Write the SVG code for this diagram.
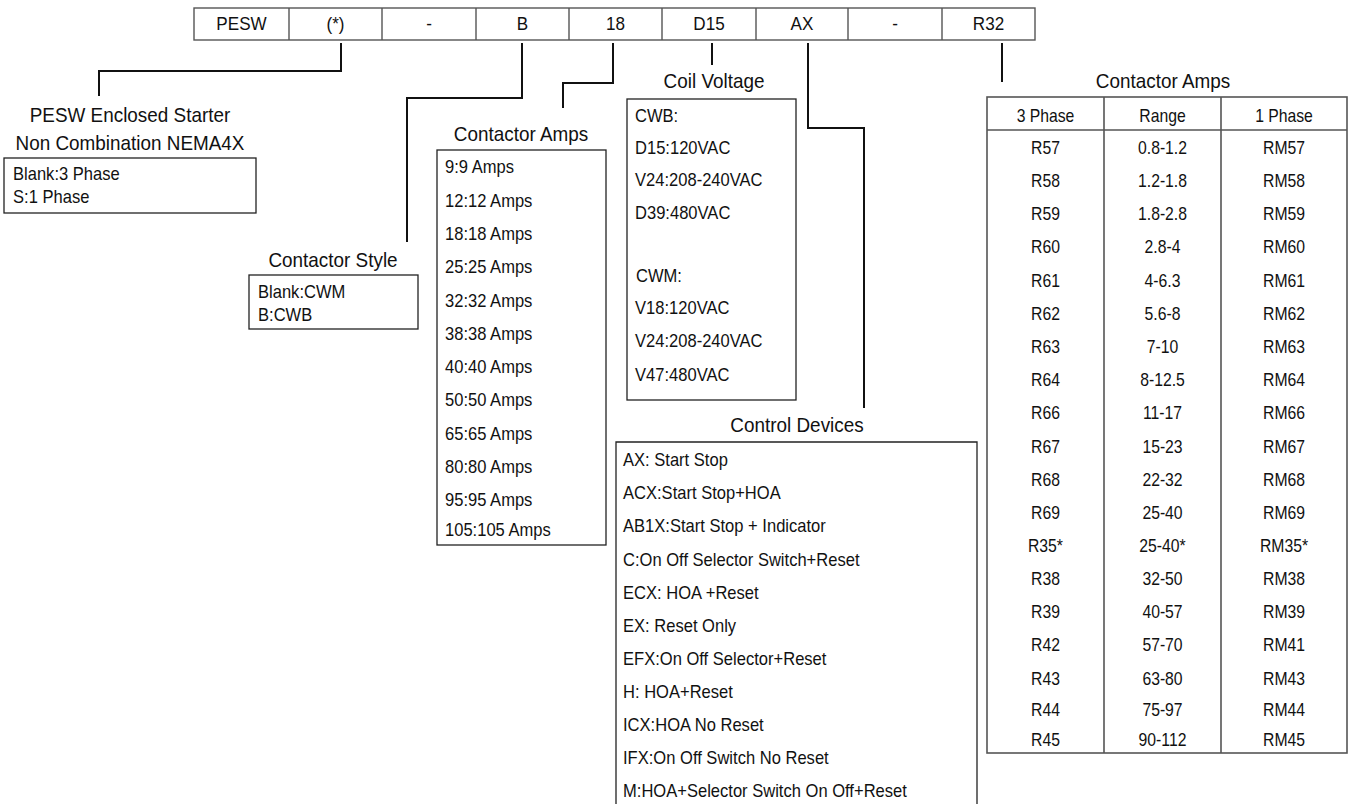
<svg xmlns="http://www.w3.org/2000/svg" width="1349" height="804" viewBox="0 0 1349 804">
<style>
text{font-family:"Liberation Sans",Arial,sans-serif;fill:#111}
.title{font-size:21px;text-anchor:middle}
.item{font-size:18px}
.bar{font-size:18px;text-anchor:middle}
.cell{font-size:17.5px;text-anchor:middle}
.box{fill:#fff;stroke:#222;stroke-width:1.3}
.grid{fill:none;stroke:#555;stroke-width:1.4}
.tbl{fill:none;stroke:#555;stroke-width:1.6}
.conn{fill:none;stroke:#111;stroke-width:2}
</style>
<rect width="1349" height="804" fill="#fff"/>

<g id="code-bar">
<rect x="194" y="8" width="841" height="32" class="grid" fill="#fff"/>
<path class="grid" d="M289,8V40M382,8V40M476,8V40M569,8V40M662,8V40M756,8V40M848,8V40M942,8V40"/>
<text class="bar" transform="translate(241.5,30) scale(0.95,1)">PESW</text>
<text class="bar" transform="translate(335.5,30) scale(0.95,1)">(*)</text>
<text class="bar" transform="translate(429,30) scale(0.95,1)">-</text>
<text class="bar" transform="translate(522.5,30) scale(0.95,1)">B</text>
<text class="bar" transform="translate(615.5,30) scale(0.95,1)">18</text>
<text class="bar" transform="translate(709,30) scale(0.95,1)">D15</text>
<text class="bar" transform="translate(802,30) scale(0.95,1)">AX</text>
<text class="bar" transform="translate(895,30) scale(0.95,1)">-</text>
<text class="bar" transform="translate(988.5,30) scale(0.95,1)">R32</text>
</g>

<g id="connectors">
<path class="conn" d="M341,43V71H99V96"/>
<path class="conn" d="M522,43V98H407V242"/>
<path class="conn" d="M613,43V83H563V108"/>
<path class="conn" d="M712,43V65"/>
<path class="conn" d="M808,43V128H864V408"/>
<path class="conn" d="M1002,43V82"/>
</g>

<g id="enclosed-starter">
<text class="title" transform="translate(130,122) scale(0.9,1)">PESW Enclosed Starter</text>
<text class="title" transform="translate(130,150) scale(0.9,1)">Non Combination NEMA4X</text>
<rect class="box" x="4" y="158" width="252" height="55"/>
<text class="item" transform="translate(13,180) scale(0.92,1)">Blank:3 Phase</text>
<text class="item" transform="translate(13,203) scale(0.92,1)">S:1 Phase</text>
</g>

<g id="contactor-style">
<text class="title" transform="translate(333,267) scale(0.9,1)">Contactor Style</text>
<rect class="box" x="249" y="275" width="169" height="54"/>
<text class="item" transform="translate(258,298) scale(0.92,1)">Blank:CWM</text>
<text class="item" transform="translate(258,320.5) scale(0.92,1)">B:CWB</text>
</g>

<g id="contactor-amps">
<text class="title" transform="translate(521,141) scale(0.9,1)">Contactor Amps</text>
<rect class="box" x="437" y="150" width="169" height="395"/>
<text class="item" transform="translate(445,173) scale(0.92,1)">9:9 Amps</text>
<text class="item" transform="translate(445,206.5) scale(0.92,1)">12:12 Amps</text>
<text class="item" transform="translate(445,240) scale(0.92,1)">18:18 Amps</text>
<text class="item" transform="translate(445,273) scale(0.92,1)">25:25 Amps</text>
<text class="item" transform="translate(445,306.5) scale(0.92,1)">32:32 Amps</text>
<text class="item" transform="translate(445,339.5) scale(0.92,1)">38:38 Amps</text>
<text class="item" transform="translate(445,373) scale(0.92,1)">40:40 Amps</text>
<text class="item" transform="translate(445,406) scale(0.92,1)">50:50 Amps</text>
<text class="item" transform="translate(445,440) scale(0.92,1)">65:65 Amps</text>
<text class="item" transform="translate(445,473) scale(0.92,1)">80:80 Amps</text>
<text class="item" transform="translate(445,506) scale(0.92,1)">95:95 Amps</text>
<text class="item" transform="translate(445,536) scale(0.92,1)">105:105 Amps</text>
</g>

<g id="coil-voltage">
<text class="title" transform="translate(714,88) scale(0.9,1)">Coil Voltage</text>
<rect class="box" x="627" y="99" width="169" height="301"/>
<text class="item" transform="translate(635,122) scale(0.92,1)">CWB:</text>
<text class="item" transform="translate(635,154) scale(0.92,1)">D15:120VAC</text>
<text class="item" transform="translate(635,186) scale(0.92,1)">V24:208-240VAC</text>
<text class="item" transform="translate(635,218.5) scale(0.92,1)">D39:480VAC</text>
<text class="item" transform="translate(636,282) scale(0.92,1)">CWM:</text>
<text class="item" transform="translate(635,313.5) scale(0.92,1)">V18:120VAC</text>
<text class="item" transform="translate(635,347) scale(0.92,1)">V24:208-240VAC</text>
<text class="item" transform="translate(635,380.5) scale(0.92,1)">V47:480VAC</text>
</g>

<g id="control-devices">
<text class="title" transform="translate(797,432) scale(0.9,1)">Control Devices</text>
<path class="box" d="M616,805V442H977V805"/>
<text class="item" transform="translate(623,466) scale(0.92,1)">AX: Start Stop</text>
<text class="item" transform="translate(623,499) scale(0.92,1)">ACX:Start Stop+HOA</text>
<text class="item" transform="translate(623,532) scale(0.92,1)">AB1X:Start Stop + Indicator</text>
<text class="item" transform="translate(623,565.5) scale(0.92,1)">C:On Off Selector Switch+Reset</text>
<text class="item" transform="translate(623,599) scale(0.92,1)">ECX: HOA +Reset</text>
<text class="item" transform="translate(623,632) scale(0.92,1)">EX: Reset Only</text>
<text class="item" transform="translate(623,665) scale(0.92,1)">EFX:On Off Selector+Reset</text>
<text class="item" transform="translate(623,698) scale(0.92,1)">H: HOA+Reset</text>
<text class="item" transform="translate(623,731) scale(0.92,1)">ICX:HOA No Reset</text>
<text class="item" transform="translate(623,764) scale(0.92,1)">IFX:On Off Switch No Reset</text>
<text class="item" transform="translate(623,797) scale(0.92,1)">M:HOA+Selector Switch On Off+Reset</text>
</g>

<g id="overload-table">
<text class="title" transform="translate(1163,88) scale(0.9,1)">Contactor Amps</text>
<rect x="987" y="97" width="360" height="656" fill="#fff" class="tbl"/>
<path class="tbl" d="M987,130H1347M1104,97V753M1221,97V753"/>
<text class="cell" transform="translate(1045.5,122) scale(0.9,1)">3 Phase</text>
<text class="cell" transform="translate(1162.5,122) scale(0.9,1)">Range</text>
<text class="cell" transform="translate(1284,122) scale(0.9,1)">1 Phase</text>
<g>
<text class="cell" transform="translate(1045.5,154) scale(0.9,1)">R57</text>
<text class="cell" transform="translate(1045.5,187) scale(0.9,1)">R58</text>
<text class="cell" transform="translate(1045.5,220) scale(0.9,1)">R59</text>
<text class="cell" transform="translate(1045.5,253) scale(0.9,1)">R60</text>
<text class="cell" transform="translate(1045.5,286.5) scale(0.9,1)">R61</text>
<text class="cell" transform="translate(1045.5,320) scale(0.9,1)">R62</text>
<text class="cell" transform="translate(1045.5,353) scale(0.9,1)">R63</text>
<text class="cell" transform="translate(1045.5,386) scale(0.9,1)">R64</text>
<text class="cell" transform="translate(1045.5,419) scale(0.9,1)">R66</text>
<text class="cell" transform="translate(1045.5,453) scale(0.9,1)">R67</text>
<text class="cell" transform="translate(1045.5,486) scale(0.9,1)">R68</text>
<text class="cell" transform="translate(1045.5,519) scale(0.9,1)">R69</text>
<text class="cell" transform="translate(1045.5,552) scale(0.9,1)">R35*</text>
<text class="cell" transform="translate(1045.5,585) scale(0.9,1)">R38</text>
<text class="cell" transform="translate(1045.5,618) scale(0.9,1)">R39</text>
<text class="cell" transform="translate(1045.5,651) scale(0.9,1)">R42</text>
<text class="cell" transform="translate(1045.5,684.5) scale(0.9,1)">R43</text>
<text class="cell" transform="translate(1045.5,716) scale(0.9,1)">R44</text>
<text class="cell" transform="translate(1045.5,745.5) scale(0.9,1)">R45</text>
</g>
<g>
<text class="cell" transform="translate(1162.5,154) scale(0.9,1)">0.8-1.2</text>
<text class="cell" transform="translate(1162.5,187) scale(0.9,1)">1.2-1.8</text>
<text class="cell" transform="translate(1162.5,220) scale(0.9,1)">1.8-2.8</text>
<text class="cell" transform="translate(1162.5,253) scale(0.9,1)">2.8-4</text>
<text class="cell" transform="translate(1162.5,286.5) scale(0.9,1)">4-6.3</text>
<text class="cell" transform="translate(1162.5,320) scale(0.9,1)">5.6-8</text>
<text class="cell" transform="translate(1162.5,353) scale(0.9,1)">7-10</text>
<text class="cell" transform="translate(1162.5,386) scale(0.9,1)">8-12.5</text>
<text class="cell" transform="translate(1162.5,419) scale(0.9,1)">11-17</text>
<text class="cell" transform="translate(1162.5,453) scale(0.9,1)">15-23</text>
<text class="cell" transform="translate(1162.5,486) scale(0.9,1)">22-32</text>
<text class="cell" transform="translate(1162.5,519) scale(0.9,1)">25-40</text>
<text class="cell" transform="translate(1162.5,552) scale(0.9,1)">25-40*</text>
<text class="cell" transform="translate(1162.5,585) scale(0.9,1)">32-50</text>
<text class="cell" transform="translate(1162.5,618) scale(0.9,1)">40-57</text>
<text class="cell" transform="translate(1162.5,651) scale(0.9,1)">57-70</text>
<text class="cell" transform="translate(1162.5,684.5) scale(0.9,1)">63-80</text>
<text class="cell" transform="translate(1162.5,716) scale(0.9,1)">75-97</text>
<text class="cell" transform="translate(1162.5,745.5) scale(0.9,1)">90-112</text>
</g>
<g>
<text class="cell" transform="translate(1284,154) scale(0.9,1)">RM57</text>
<text class="cell" transform="translate(1284,187) scale(0.9,1)">RM58</text>
<text class="cell" transform="translate(1284,220) scale(0.9,1)">RM59</text>
<text class="cell" transform="translate(1284,253) scale(0.9,1)">RM60</text>
<text class="cell" transform="translate(1284,286.5) scale(0.9,1)">RM61</text>
<text class="cell" transform="translate(1284,320) scale(0.9,1)">RM62</text>
<text class="cell" transform="translate(1284,353) scale(0.9,1)">RM63</text>
<text class="cell" transform="translate(1284,386) scale(0.9,1)">RM64</text>
<text class="cell" transform="translate(1284,419) scale(0.9,1)">RM66</text>
<text class="cell" transform="translate(1284,453) scale(0.9,1)">RM67</text>
<text class="cell" transform="translate(1284,486) scale(0.9,1)">RM68</text>
<text class="cell" transform="translate(1284,519) scale(0.9,1)">RM69</text>
<text class="cell" transform="translate(1284,552) scale(0.9,1)">RM35*</text>
<text class="cell" transform="translate(1284,585) scale(0.9,1)">RM38</text>
<text class="cell" transform="translate(1284,618) scale(0.9,1)">RM39</text>
<text class="cell" transform="translate(1284,651) scale(0.9,1)">RM41</text>
<text class="cell" transform="translate(1284,684.5) scale(0.9,1)">RM43</text>
<text class="cell" transform="translate(1284,716) scale(0.9,1)">RM44</text>
<text class="cell" transform="translate(1284,745.5) scale(0.9,1)">RM45</text>
</g>
</g>
</svg>
